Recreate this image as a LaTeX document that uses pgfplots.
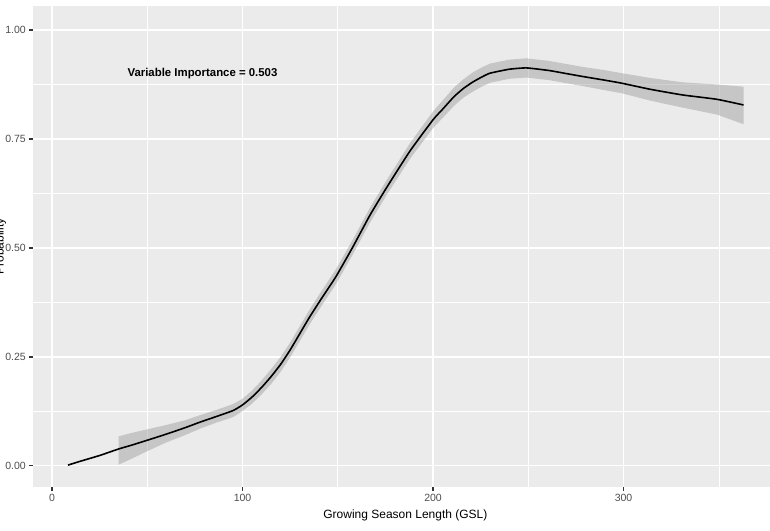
\documentclass[border=0pt]{standalone}
\usepackage{fontspec}
\setmainfont{Liberation Sans}
\usepackage{pgfplots}
\pgfplotsset{compat=1.18}
\usepgfplotslibrary{fillbetween}
\usepackage{pgfplotstable}
\definecolor{panelbg}{HTML}{EBEBEB}
\definecolor{ticktext}{HTML}{4D4D4D}
\definecolor{tickcol}{HTML}{333333}
\definecolor{ribbon}{HTML}{999999}

\pgfplotstableread{
x y
8.4 0.002
15 0.011
25 0.024
35 0.039
42 0.048
50 0.059
60 0.073
70 0.088
78 0.101
86 0.113
95 0.127
100 0.140
105 0.158
110 0.180
115 0.205
120 0.233
125 0.266
130 0.303
135 0.340
141 0.381
149 0.434
158 0.503
167 0.576
176 0.641
188 0.723
200 0.794
205 0.818
211 0.847
216 0.866
221 0.881
226 0.893
230 0.901
240 0.910
249 0.913
261 0.907
270 0.900
279 0.893
290 0.885
299 0.878
314 0.864
331 0.851
349 0.841
363 0.828
}\fitline

\pgfplotstableread{
x lo hi
35 0.003 0.068
42 0.017 0.076
50 0.034 0.084
60 0.054 0.094
70 0.071 0.105
78 0.086 0.117
86 0.099 0.128
95 0.112 0.142
100 0.126 0.154
105 0.143 0.173
110 0.164 0.196
115 0.188 0.222
120 0.216 0.250
125 0.249 0.283
130 0.286 0.320
135 0.323 0.357
141 0.364 0.398
149 0.417 0.451
158 0.486 0.520
167 0.559 0.593
176 0.624 0.658
188 0.705 0.741
200 0.775 0.813
205 0.798 0.838
211 0.826 0.868
216 0.845 0.887
221 0.859 0.903
226 0.871 0.915
230 0.879 0.923
240 0.888 0.932
249 0.891 0.935
261 0.885 0.929
270 0.878 0.922
279 0.871 0.915
290 0.862 0.908
299 0.855 0.901
314 0.838 0.890
331 0.822 0.880
349 0.806 0.875
363 0.784 0.870
}\band

\begin{document}
\begin{tikzpicture}
\begin{axis}[
  scale only axis,
  width=744.9pt, height=480.9pt,
  xmin=-10, xmax=381,
  ymin=-0.048, ymax=1.055,
  axis x line*=bottom, axis y line*=left,
  axis line style={draw=none},
  axis background/.style={fill=panelbg},
  xtick={0,100,200,300},
  xticklabels={0,100,200,300},
  ytick={0,0.25,0.5,0.75,1},
  yticklabels={0.00,0.25,0.50,0.75,1.00},
  minor xtick={50,150,250,350},
  minor ytick={0.125,0.375,0.625,0.875},
  grid=both,
  major grid style={white, line width=1.07pt},
  minor grid style={white, line width=0.53pt},
  tick align=outside,
  major tick length=3.7pt,
  minor tick length=0pt,
  every tick/.style={tickcol, line width=1.07pt},
  tick label style={font=\fontsize{10.5}{12}\selectfont, text=ticktext},
  clip=false,
]
\addplot[draw=none, name path=hi, forget plot] table[x=x, y=hi]{\band};
\addplot[draw=none, name path=lo, forget plot] table[x=x, y=lo]{\band};
\addplot[fill=ribbon, fill opacity=0.45, draw=none] fill between[of=hi and lo];
\addplot[black, line width=1.6pt, smooth, tension=0.3] table[x=x, y=y]{\fitline};
\node[font=\bfseries\fontsize{11.4}{13}\selectfont, anchor=center] at (axis cs:79,0.899) {Variable Importance = 0.503};
\node[font=\fontsize{12}{14}\selectfont, anchor=base] at (axis cs:185.5,-0.1216) {Growing Season Length (GSL)};
\node[font=\fontsize{12}{14}\selectfont, rotate=90, anchor=base] at (axis cs:-25.4,0.5035) {Probability};
\coordinate (bl) at (axis cs:-27.3,-0.149);
\coordinate (tr) at (axis cs:376.9,1.0688);
\end{axis}
\pgfresetboundingbox
\path[use as bounding box] (bl) rectangle (tr);
\end{tikzpicture}
\end{document}
